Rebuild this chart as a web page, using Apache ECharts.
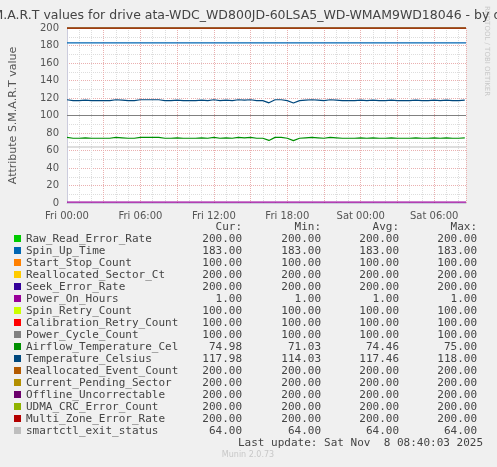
<!DOCTYPE html>
<html><head><meta charset="utf-8">
<script src="https://cdn.jsdelivr.net/npm/echarts@6/dist/echarts.min.js"></script>
<style>html,body{margin:0;padding:0;background:#f0f0f0}#c{width:497px;height:467px}</style>
</head><body><div id="c"></div>
<script>
const names = ['Raw_Read_Error_Rate','Spin_Up_Time','Start_Stop_Count','Reallocated_Sector_Ct','Seek_Error_Rate','Power_On_Hours','Spin_Retry_Count','Calibration_Retry_Count','Power_Cycle_Count','Airflow_Temperature_Cel','Temperature_Celsius','Reallocated_Event_Count','Current_Pending_Sector','Offline_Uncorrectable','UDMA_CRC_Error_Count','Multi_Zone_Error_Rate','smartctl_exit_status'];
const colors = ['#00cc00','#0066b3','#ff8000','#ffcc00','#330099','#990099','#ccff00','#ff0000','#808080','#008f00','#00487d','#b35a00','#b38f00','#6b006b','#8fb300','#b30000','#bebebe'];
const cur = ['200.00','183.00','100.00','200.00','200.00','1.00','100.00','100.00','100.00','74.98','117.98','200.00','200.00','200.00','200.00','200.00','64.00'];
const mins = ['200.00','183.00','100.00','200.00','200.00','1.00','100.00','100.00','100.00','71.03','114.03','200.00','200.00','200.00','200.00','200.00','64.00'];
const avgs = ['200.00','183.00','100.00','200.00','200.00','1.00','100.00','100.00','100.00','74.46','117.46','200.00','200.00','200.00','200.00','200.00','64.00'];
const maxs = ['200.00','183.00','100.00','200.00','200.00','1.00','100.00','100.00','100.00','75.00','118.00','200.00','200.00','200.00','200.00','200.00','64.00'];
const constVals = [200,183,100,200,200,1,100,100,100,null,null,200,200,200,200,200,64];
const endHour = 32.6;
// half-hourly samples from Fri 00:00
const airflow = [75,74,74,74.5,74,74,74,74,75,74.5,74,74,75,75,75,75,74,74,74.5,74,74,74,74.5,74,75,74,74.5,74,75,74.5,75,74,74,71.5,75,75,74,71.3,74,74.5,75,74.5,74,75,74.5,74,74,74,74.5,74,74.5,74,74,74.5,74,74,74,74.5,74,74,74.5,74,74.5,74,74,74.5];
const tempC = [118,117,117,117.5,117,117,117,117,118,117.5,117,117,118,118,118,118,117,117,117.5,117,117,117,117.5,117,118,117,117.5,117,118,117.5,118,117,117,114.5,118,118,117,114.3,117,117.5,118,117.5,117,118,117.5,117,117,117,117.5,117,117.5,117,117,117.5,117,117,117,117.5,117,117,117.5,117,117.5,117,117,117.5];
const xTicks = ['Fri 00:00','Fri 06:00','Fri 12:00','Fri 18:00','Sat 00:00','Sat 06:00'];

const series = names.map((n, i) => {
  let data;
  if (i === 9) data = airflow.map((v, k) => [k * 0.5, v]);
  else if (i === 10) data = tempC.map((v, k) => [k * 0.5, v]);
  else data = [[0, constVals[i]], [endHour, constVals[i]]];
  return {
    name: n, type: 'line', data, symbol: 'none', animation: false,
    lineStyle: {color: colors[i], width: 1.2}
  };
});

const mono = 'DejaVu Sans Mono';
const txt = '#444';
const g = [];
const y0 = 239, dy = 12;
[['Cur:',242],['Min:',321],['Avg:',399],['Max:',477]].forEach(h => g.push({type:'text', style:{text:h[0], x:h[1], y:y0-dy, textAlign:'right', textVerticalAlign:'middle', font:'11px '+mono, fill:txt}}));
names.forEach((n, i) => {
  const y = y0 + i * dy;
  g.push({type:'rect', shape:{x:14, y:y-4, width:7, height:7}, style:{fill:colors[i]}});
  g.push({type:'text', style:{text:n, x:26, y, textVerticalAlign:'middle', font:'11px '+mono, fill:txt}});
  [[cur,242],[mins,321],[avgs,399],[maxs,477]].forEach(c => g.push({type:'text', style:{text:c[0][i], x:c[1], y, textAlign:'right', textVerticalAlign:'middle', font:'11px '+mono, fill:txt}}));
});
g.push({type:'text', style:{text:'Last update: Sat Nov  8 08:40:03 2025', x:483, y:y0+17*dy, textAlign:'right', textVerticalAlign:'middle', font:'11px '+mono, fill:txt}});
g.push({type:'text', style:{text:'Munin 2.0.73', x:248, y:455, textAlign:'center', textVerticalAlign:'middle', font:'8px DejaVu Sans', fill:'#c8c8c8'}});
g.push({type:'text', rotation:-Math.PI/2, x:487, y:6, style:{text:'RRDTOOL / TOBI OETIKER', textVerticalAlign:'middle', font:'7px DejaVu Sans', fill:'#c8c8c8'}});

const chart = echarts.init(document.getElementById('c'));
chart.setOption({
  backgroundColor: '#f0f0f0',
  title: {text:'S.M.A.R.T values for drive ata-WDC_WD800JD-60LSA5_WD-WMAM9WD18046 - by day', left:'center', top:4, textStyle:{fontFamily:'DejaVu Sans', fontSize:12.5, fontWeight:'normal', color:'#444'}},
  grid: {left:67, right:31, top:28, bottom:264, backgroundColor:'#fff', show:true, borderWidth:0},
  xAxis: {type:'value', min:0, max:endHour, interval:3,
    axisLabel:{formatter:v => (v % 6 === 0 ? xTicks[v/6] || '' : ''), fontFamily:'DejaVu Sans', fontSize:10, color:'#555', showMaxLabel:false},
    axisLine:{lineStyle:{color:'#ccd'}}, axisTick:{show:false},
    splitLine:{show:true, lineStyle:{color:'#eab0b0', type:'dotted'}},
    minorTick:{show:false, splitNumber:3}, minorSplitLine:{show:true, lineStyle:{color:'#ddd', type:'dotted'}}},
  yAxis: {type:'value', min:0, max:200, interval:20, name:'Attribute S.M.A.R.T value', nameLocation:'middle', nameGap:48,
    nameTextStyle:{fontFamily:'DejaVu Sans', fontSize:11, color:'#555'},
    axisLabel:{fontFamily:'DejaVu Sans', fontSize:10, color:'#555'},
    axisLine:{show:true, lineStyle:{color:'#ccd'}}, axisTick:{show:false},
    splitLine:{show:true, lineStyle:{color:'#eab0b0', type:'dotted'}},
    minorTick:{show:false, splitNumber:2}, minorSplitLine:{show:true, lineStyle:{color:'#ddd', type:'dotted'}}},
  series,
  graphic: g
});
</script></body></html>
